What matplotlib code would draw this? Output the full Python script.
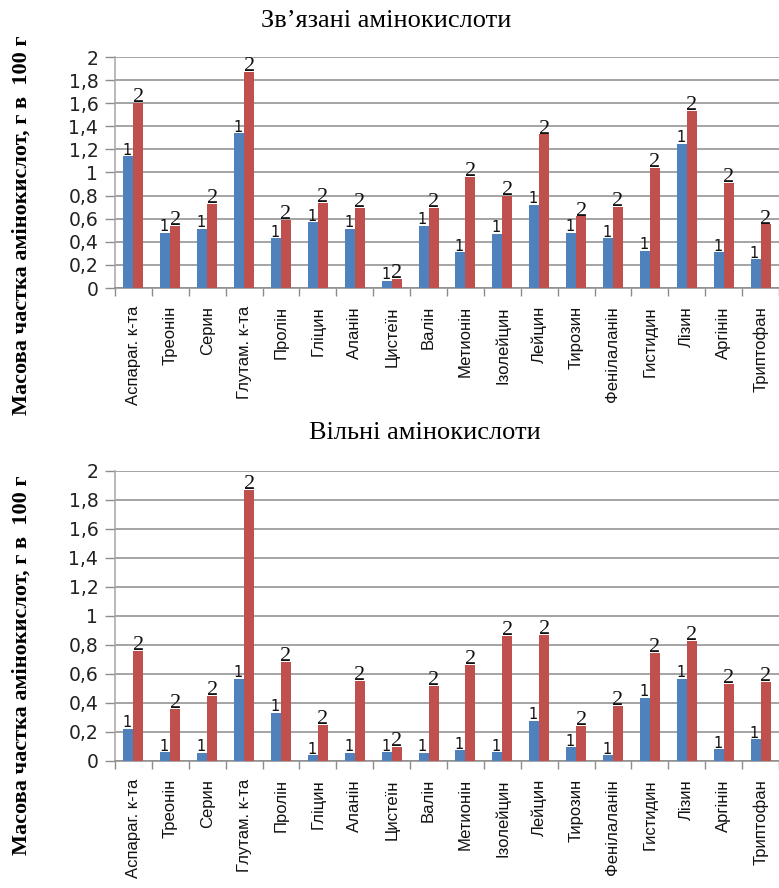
import matplotlib
matplotlib.use("Agg")
import matplotlib.pyplot as plt
import numpy as np

categories = ["Аспараг. к-та", "Треонін", "Серин", "Глутам. к-та", "Пролін",
              "Гліцин", "Аланін", "Цистеїн", "Валін", "Метионін", "Ізолейцин",
              "Лейцин", "Тирозин", "Фенілаланін", "Гистидин", "Лізин",
              "Аргінін", "Триптофан"]

bound_1 = [1.14, 0.48, 0.51, 1.34, 0.43, 0.57, 0.51, 0.06, 0.54, 0.31, 0.47,
           0.72, 0.48, 0.43, 0.32, 1.25, 0.31, 0.25]
bound_2 = [1.60, 0.54, 0.73, 1.87, 0.59, 0.74, 0.69, 0.08, 0.69, 0.96, 0.80,
           1.33, 0.62, 0.70, 1.04, 1.53, 0.91, 0.55]

free_1 = [0.22, 0.06, 0.055, 0.565, 0.33, 0.04, 0.055, 0.06, 0.055, 0.075, 0.06,
          0.275, 0.095, 0.04, 0.435, 0.565, 0.08, 0.15]
free_2 = [0.76, 0.36, 0.45, 1.87, 0.68, 0.25, 0.55, 0.095, 0.52, 0.66, 0.86,
          0.87, 0.24, 0.38, 0.745, 0.83, 0.53, 0.545]

titles = ["Зв’язані амінокислоти", "Вільні амінокислоти"]
ylabel = "Масова частка амінокислот, г в  100 г"
yticks = [0, 0.2, 0.4, 0.6, 0.8, 1.0, 1.2, 1.4, 1.6, 1.8, 2.0]
ytick_labels = ["0", "0,2", "0,4", "0,6", "0,8", "1", "1,2", "1,4", "1,6", "1,8", "2"]

BLUE = "#4F81BD"
RED = "#C0504D"
GRID = "#8c8c8c"

W, H = 779, 888
fig = plt.figure(figsize=(W / 100, H / 100), dpi=100)

def make_axes(top_px, zero_px):
    return fig.add_axes([115 / W, 1 - zero_px / H, 664 / W, (zero_px - top_px) / H])

ax_top = make_axes(57, 288)
ax_bot = make_axes(470.7, 761)

bw = 0.27
x = np.arange(len(categories))

def draw(ax, s1, s2):
    ax.set_xlim(-0.5, len(categories) - 0.5)
    ax.set_ylim(0, 2)
    ax.set_yticks(yticks)
    ax.set_yticklabels(ytick_labels, fontsize=13.5, family="DejaVu Sans", color="#222222")
    ax.yaxis.grid(True, color=GRID, linewidth=1.1)
    ax.set_axisbelow(True)
    ax.bar(x - bw / 2, s1, width=bw, color=BLUE, zorder=3)
    ax.bar(x + bw / 2, s2, width=bw, color=RED, zorder=3)
    for xi, v in zip(x, s1):
        ax.annotate("1", (xi - bw / 2 - 0.03, v), xytext=(0, -1), textcoords="offset points",
                    ha="center", va="bottom", fontsize=10.5, family="DejaVu Sans", color="#111111",
                    zorder=4)
    for xi, v in zip(x, s2):
        ax.annotate("2", (xi + bw / 2, v), xytext=(0, -3), textcoords="offset points",
                    ha="center", va="bottom", fontsize=16, family="Liberation Serif", color="#111111",
                    zorder=4)
    ax.set_xticks(x)
    ax.set_xticklabels(categories, rotation=90, fontsize=12, family="Liberation Sans",
                       color="#111111")
    ax.tick_params(axis="x", which="major", length=0, pad=13)
    ax.set_xticks(np.arange(-0.5, len(categories) + 0.5, 1), minor=True)
    ax.tick_params(axis="x", which="minor", length=6, color=GRID, width=1)
    ax.tick_params(axis="y", length=7, color=GRID, width=1, pad=5)
    for s in ["top", "right"]:
        ax.spines[s].set_visible(False)
    ax.spines["left"].set_color("#a6a6a6")
    ax.spines["bottom"].set_color(GRID)
    ax.spines["left"].set_linewidth(1.1)
    ax.spines["bottom"].set_linewidth(1.1)

draw(ax_top, bound_1, bound_2)
draw(ax_bot, free_1, free_2)

fig.text(386 / W, 1 - 21 / H, titles[0], ha="center", va="center",
         fontsize=19, family="Liberation Serif")
fig.text(425 / W, 1 - 433 / H, titles[1], ha="center", va="center",
         fontsize=19, family="Liberation Serif")

for cy in (225, 665):
    fig.text(22 / W, 1 - cy / H, ylabel, rotation=90, ha="center", va="center",
             fontsize=16, fontweight="bold", family="Liberation Serif")

fig.savefig("out.png", dpi=100)
